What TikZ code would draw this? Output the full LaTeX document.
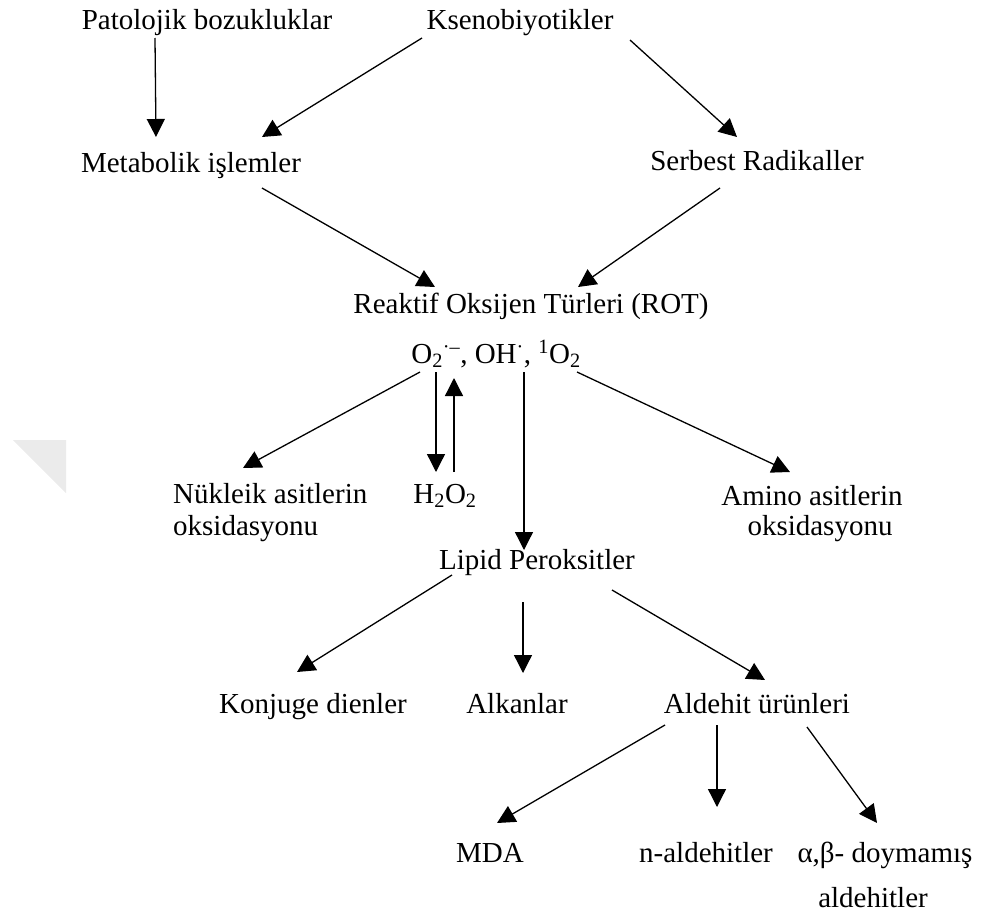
\documentclass[tikz,border=0pt]{standalone}
\usepackage{fontspec}
\setmainfont{Liberation Serif}
\usetikzlibrary{arrows.meta,calc}
\begin{document}
\begin{tikzpicture}[x=1pt,y=-1pt,
  lbl/.style={anchor=base,inner sep=0pt,font=\fontsize{29}{34}\selectfont},
  lblw/.style={lbl,anchor=base west},
  arr/.style={line width=1.3pt,-{Triangle[length=18pt,width=18pt]}}]
\useasboundingbox (0,0) rectangle (989,916);
\fill[black!8] (13,440) -- (66,440) -- (66,493) -- cycle;
% nodes
\node[lbl] (pat) at (207,29) {Patolojik bozukluklar};
\node[lbl] (ksen) at (520,29) {Ksenobiyotikler};
\node[lbl] (met) at (191,172) {Metabolik işlemler};
\node[lbl] (serb) at (757,170) {Serbest Radikaller};
\node[lbl] (rot) at (531,313) {Reaktif Oksijen Türleri (ROT)};
\node[lbl] (ox) at (496,363) {O\textsubscript{2}\textsuperscript{·–}, OH\textsuperscript{·}, \textsuperscript{1}O\textsubscript{2}};
\node[lblw] (nuk1) at (173,503) {Nükleik asitlerin};
\node[lblw] (nuk2) at (173,535) {oksidasyonu};
\node[lbl] (h2o) at (445,503) {H\textsubscript{2}O\textsubscript{2}};
\node[lbl] (am1) at (812,505) {Amino asitlerin};
\node[lbl] (am2) at (820,535) {oksidasyonu};
\node[lbl] (lip) at (537,569) {Lipid Peroksitler};
\node[lbl] (konj) at (313,713) {Konjuge dienler};
\node[lbl] (alk) at (517,713) {Alkanlar};
\node[lbl] (ald) at (757,713) {Aldehit ürünleri};
\node[lbl] (mda) at (490,862) {MDA};
\node[lbl] (nal) at (706,862) {n-aldehitler};
\node[lbl] (ab1) at (885,862) {α,β- doymamış};
\node[lbl] (ab2) at (873,907) {aldehitler};
% connectors
\draw[arr] ($(pat.base)+(-52,9)$) -- ($(met.base)+(-35,-35)$);
\draw[arr] ($(ksen.base)+(-98,9)$) -- ($(met.base)+(71,-35)$);
\draw[arr] ($(ksen.base)+(110,11)$) -- ($(serb.base)+(-20,-33)$);
\draw[arr] ($(met.base)+(71,16)$) -- ($(rot.base)+(-96,-26)$);
\draw[arr] ($(serb.base)+(-37,18)$) -- ($(rot.base)+(47,-26)$);
\draw[arr] ($(ox.base)+(-76,9)$) -- ($(nuk1.base west)+(70,-35)$);
\draw[arr] ($(ox.base)+(-60,9)$) -- ($(h2o.base)+(-9,-31)$);
\draw[arr] ($(h2o.base)+(9,-31)$) -- ($(ox.base)+(-42,15)$);
\draw[arr] ($(ox.base)+(28,9)$) -- ($(lip.base)+(-13,-19)$);
\draw[arr] ($(ox.base)+(81,9)$) -- ($(am1.base)+(-22,-33)$);
\draw[arr] ($(lip.base)+(-85,6)$) -- ($(konj.base)+(-16,-41)$);
\draw[arr] ($(lip.base)+(-14,33)$) -- ($(alk.base)+(6,-40)$);
\draw[arr] ($(lip.base)+(75,21)$) -- ($(ald.base)+(8,-33)$);
\draw[arr] ($(ald.base)+(-92,12)$) -- ($(mda.base)+(7,-39)$);
\draw[arr] ($(ald.base)+(-40,12)$) -- ($(nal.base)+(11,-55)$);
\draw[arr] ($(ald.base)+(50,14)$) -- ($(ab1.base)+(-8,-39)$);
\end{tikzpicture}
\end{document}
